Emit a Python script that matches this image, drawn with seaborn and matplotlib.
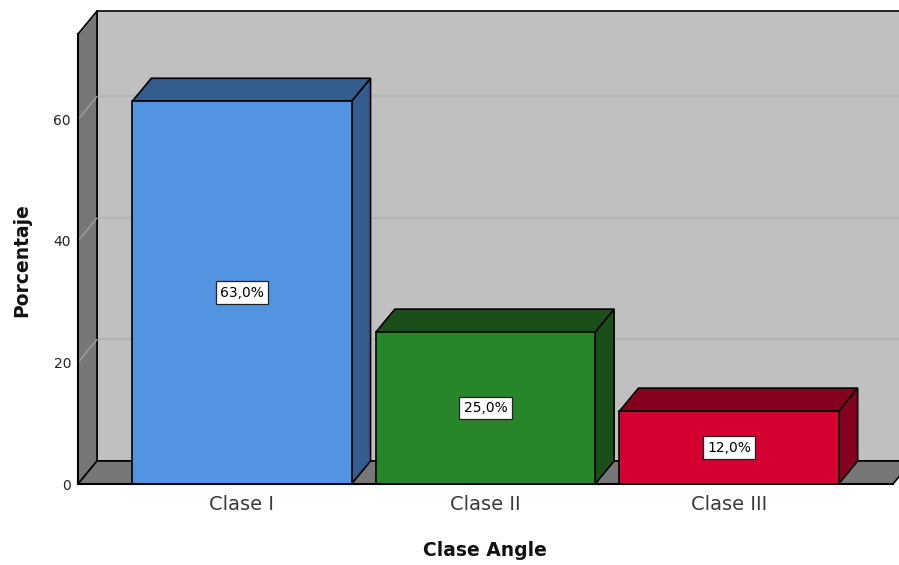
import matplotlib
matplotlib.use("Agg")
import matplotlib.pyplot as plt
from matplotlib.patches import Polygon
import seaborn as sns
import pandas as pd

# Data
categories = ["Clase I", "Clase II", "Clase III"]
percentages = [63.0, 25.0, 12.0]
value_labels = ["63,0%", "25,0%", "12,0%"]
y_ticks = [0, 20, 40, 60]

front_colors = ["#5294E2", "#28862A", "#D50032"]
shade_colors = ["#335C8F", "#1A4F1A", "#85001F"]

sns.set_theme(style="white")
plt.rcParams["font.family"] = ["DejaVu Sans"]

W, H = 899, 565
fig = plt.figure(figsize=(W / 100, H / 100), dpi=100)
# front frame of the 3D box, in pixels
px_left, px_right, px_bottom, px_top = 78, 893, 484, 34
ax = fig.add_axes([px_left / W, 1 - px_bottom / H,
                   (px_right - px_left) / W, (px_bottom - px_top) / H])

xl, xr = -0.673, 2.673
ytop = 74.07

# front faces of the bars
df = pd.DataFrame({"Clase": categories, "Porcentaje": percentages})
sns.barplot(data=df, x="Clase", y="Porcentaje", hue="Clase",
            palette=front_colors, saturation=1, width=0.9,
            edgecolor="black", linewidth=1.2, legend=False, ax=ax, zorder=3)

ax.set_xlim(xl, xr)
ax.set_ylim(0, ytop)

# depth offset of the box (pixels -> data units)
px_per_x = (px_right - px_left) / (xr - xl)
px_per_y = (px_bottom - px_top) / ytop
dx = 19 / px_per_x
dy = 23 / px_per_y

wall = "#C0C0C0"
side = "#777777"
grid_back = "#B4B4B4"
grid_side = "#A0A0A0"

def poly(pts, fc, ec="black", lw=1.2, z=0.5):
    ax.add_patch(Polygon(pts, closed=True, facecolor=fc, edgecolor=ec,
                         linewidth=lw, clip_on=False, zorder=z,
                         joinstyle="miter"))

# back wall
poly([(xl + dx, dy), (xr + dx + 1, dy), (xr + dx + 1, ytop + dy),
      (xl + dx, ytop + dy)], wall, z=0.1)
for t in y_ticks[1:]:
    ax.plot([xl + dx, xr + dx + 1], [t + dy, t + dy], color=grid_back,
            lw=1.5, clip_on=False, zorder=0.2)
# left wall
poly([(xl, 0), (xl + dx, dy), (xl + dx, ytop + dy), (xl, ytop)], side, z=0.3)
for t in y_ticks[1:]:
    ax.plot([xl, xl + dx], [t, t + dy], color=grid_side, lw=1.0,
            clip_on=False, zorder=0.35)
# floor
poly([(xl, 0), (xr, 0), (xr + dx, dy), (xl + dx, dy)], side, z=0.3)

# top and side faces, value labels
for i, (v, shade, lab) in enumerate(zip(percentages, shade_colors, value_labels)):
    x0, x1 = i - 0.45, i + 0.45
    poly([(x1, 0), (x1 + dx, dy), (x1 + dx, v + dy), (x1, v)], shade, z=2)
    poly([(x0, v), (x0 + dx, v + dy), (x1 + dx, v + dy), (x1, v)], shade, z=2)
    ax.text(i, v / 2, lab, ha="center", va="center", fontsize=10,
            color="black", zorder=5,
            bbox=dict(boxstyle="square,pad=0.3", fc="white", ec="#222222",
                      lw=0.9))

for s in ["top", "right"]:
    ax.spines[s].set_visible(False)
for s in ["left", "bottom"]:
    ax.spines[s].set_color("black")
    ax.spines[s].set_linewidth(1.5)
    ax.spines[s].set_zorder(4)

ax.set_yticks(y_ticks)
ax.set_yticklabels([str(t) for t in y_ticks])
ax.tick_params(axis="y", length=0, pad=5, labelsize=10, labelcolor="#222222")
ax.tick_params(axis="x", length=0, pad=8, labelsize=14, labelcolor="#3a3a3a")

ax.set_xlabel("Clase Angle", fontsize=13.5, fontweight="bold",
              color="#111111")
ax.set_ylabel("Porcentaje", fontsize=13.5, fontweight="bold",
              color="#111111")
ax.xaxis.set_label_coords((485 - px_left) / (px_right - px_left),
                          -(551 - px_bottom) / (px_bottom - px_top))
ax.xaxis.label.set_va("center")
ax.yaxis.set_label_coords(-(78 - 22) / (px_right - px_left),
                          (484 - 260) / (px_bottom - px_top))
ax.yaxis.label.set_va("center")
ax.set_facecolor("none")

fig.savefig("out.png", dpi=100)
